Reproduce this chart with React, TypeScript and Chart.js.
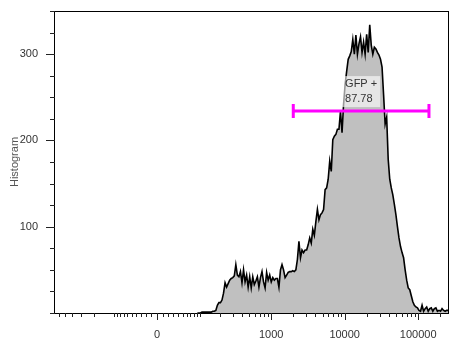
import React, { useEffect, useRef } from "react";
import { Chart, registerables } from "chart.js";

Chart.register(...registerables);

// ---- axis definition (arcsinh / biexponential display) ----
const xMinValue = -687;
const xMaxValue = 262144;
const xWidthParam = 56.3;
const binTotal = 256;

const xMajorTicks = [0, 1000, 10000, 100000];
const xMajorLabels = ["0", "1000", "10000", "100000"];
const xMinorTicks = [
  -600, -500, -400, -300, -200, -100, -90, -80, -70, -60, -50, -40, -30, -20, -10,
  10, 20, 30, 40, 50, 60, 70, 80, 90, 100, 200, 300, 400, 500, 600, 700, 800, 900,
  2000, 3000, 4000, 5000, 6000, 7000, 8000, 9000,
  20000, 30000, 40000, 50000, 60000, 70000, 80000, 90000, 200000,
];
const yMajorTicks = [100, 200, 300];
const yMinorTicks = [25, 50, 75, 125, 150, 175, 225, 250, 275, 325, 350];
const yMax = 350;
const yTitle = "Histogram";

// ---- histogram counts (256 display bins; first listed bin index below) ----
const firstBin = 92;
const binCounts = [
  0, 0, 0, 1, 1, 1, 1, 1, 1, 1, // 92-101
  2, 2, 3, 9, 12, 12, 15, 23, 35, 30, // 102-111
  34, 38, 40, 41, 43, 56, 44, 42, 48, 35, // 112-121
  50, 36, 44, 30, 42, 29, 42, 33, 37, 42, // 122-131
  30, 41, 48, 36, 29, 47, 38, 44, 36, 41, // 132-141
  38, 40, 40, 30, 50, 56, 50, 41, 44, 47, // 142-151
  48, 48, 49, 48, 50, 62, 83, 64, 73, 70, // 152-161
  73, 73, 79, 87, 81, 97, 90, 106, 120, 108, // 162-171
  114, 116, 120, 143, 145, 155, 176, 164, 201, 205, // 172-181
  207, 213, 213, 234, 209, 242, 265, 280, 294, 298, // 182-191
  303, 317, 300, 322, 300, 312, 320, 302, 314, 300, // 192-201
  323, 302, 334, 310, 300, 308, 306, 302, 299, 294, // 202-211
  285, 253, 219, 227, 178, 155, 145, 137, 126, 114, // 212-221
  100, 87, 77, 70, 64, 50, 38, 29, 27, 20, // 222-231
  13, 9, 7, 6, 3, 2, 9, 2, 5, 7, // 232-241
  2, 5, 6, 2, 5, 6, 2, 3, 2, 5, // 242-251
  3, 2, 3, 3, // 252-255
];

// ---- gate ----
const gateName = "GFP +";
const gatePercent = "87.78";
const gateLow = 2000;
const gateHigh = 140000;
const gateLevel = 234;

const FONT = '"Liberation Sans", Arial, sans-serif';

function displayOf(v: number) {
  return Math.asinh(v / xWidthParam) / Math.LN10;
}
const dMin = displayOf(xMinValue);
const dMax = displayOf(xMaxValue);
function channelOf(v: number) {
  return ((displayOf(v) - dMin) / (dMax - dMin)) * binTotal;
}

const decorPlugin = {
  id: "decor",
  afterDatasetsDraw(chart: any) {
    const { ctx, scales } = chart;
    const x = scales.x;
    const y = scales.y;
    const x1 = x.getPixelForValue(channelOf(gateLow));
    const x2 = x.getPixelForValue(channelOf(gateHigh));
    const gy = y.getPixelForValue(gateLevel);
    const cx = (x1 + x2) / 2;
    ctx.save();
    ctx.font = `11px ${FONT}`;
    const w =
      Math.max(ctx.measureText(gateName).width, ctx.measureText(gatePercent).width) + 6;
    ctx.fillStyle = "rgba(255,255,255,0.6)";
    ctx.fillRect(cx - w / 2, gy - 35, w, 31);
    ctx.fillStyle = "#333";
    ctx.textAlign = "left";
    ctx.textBaseline = "middle";
    ctx.fillText(gateName, cx - w / 2 + 3, gy - 27);
    ctx.fillText(gatePercent, cx - w / 2 + 3, gy - 12);
    ctx.strokeStyle = "#ff00ff";
    ctx.lineWidth = 3;
    ctx.beginPath();
    ctx.moveTo(x1, gy);
    ctx.lineTo(x2, gy);
    ctx.moveTo(x1, gy - 7);
    ctx.lineTo(x1, gy + 7);
    ctx.moveTo(x2, gy - 7);
    ctx.lineTo(x2, gy + 7);
    ctx.stroke();
    ctx.restore();
  },
  afterDraw(chart: any) {
    const { ctx, chartArea, scales } = chart;
    const { left, right, top, bottom } = chartArea;
    ctx.save();
    ctx.strokeStyle = "#000";
    ctx.lineWidth = 1;
    ctx.strokeRect(left - 0.5, top + 0.5, right - left, bottom - top);
    ctx.strokeStyle = "#222";
    ctx.beginPath();
    // y ticks
    for (const v of yMinorTicks) {
      const py = Math.round(scales.y.getPixelForValue(v)) + 0.5;
      ctx.moveTo(left - 5, py);
      ctx.lineTo(left, py);
    }
    for (const v of yMajorTicks) {
      const py = Math.round(scales.y.getPixelForValue(v)) + 0.5;
      ctx.moveTo(left - 9, py);
      ctx.lineTo(left, py);
    }
    {
      const py = Math.round(scales.y.getPixelForValue(0)) + 0.5;
      ctx.moveTo(left - 5, py);
      ctx.lineTo(left, py);
    }
    // x ticks
    for (const v of xMinorTicks) {
      const px = Math.round(scales.x.getPixelForValue(channelOf(v))) + 0.5;
      if (px < left || px > right) continue;
      ctx.moveTo(px, bottom);
      ctx.lineTo(px, bottom + 4);
    }
    for (const v of xMajorTicks) {
      const px = Math.round(scales.x.getPixelForValue(channelOf(v))) + 0.5;
      ctx.moveTo(px, bottom);
      ctx.lineTo(px, bottom + 7);
    }
    ctx.stroke();
    ctx.restore();
  },
};

export default function App() {
  const canvasRef = useRef<HTMLCanvasElement | null>(null);

  useEffect(() => {
    const canvas = canvasRef.current;
    if (!canvas) return;
    const points = binCounts.map((c, i) => ({ x: firstBin + i + 0.5, y: c }));
    const chart = new Chart(canvas, {
      type: "line",
      data: {
        datasets: [
          {
            data: points,
            borderColor: "#000",
            borderWidth: 1.6,
            backgroundColor: "#c0c0c0",
            fill: "origin",
            pointRadius: 0,
            tension: 0,
          },
        ],
      },
      options: {
        animation: false,
        responsive: false,
        events: [],
        layout: { padding: { left: 0, top: 11, right: 3, bottom: 0 } },
        plugins: { legend: { display: false }, tooltip: { enabled: false } },
        scales: {
          x: {
            type: "linear",
            min: 0,
            max: binTotal,
            grid: { display: false, drawTicks: false },
            border: { display: false },
            afterBuildTicks: (scale: any) => {
              scale.ticks = xMajorTicks.map((v) => ({ value: channelOf(v) }));
            },
            afterFit: (scale: any) => {
              scale.height = 33;
              scale.paddingLeft = 0;
              scale.paddingRight = 0;
            },
            ticks: {
              padding: 15,
              maxRotation: 0,
              autoSkip: false,
              color: "#333",
              font: { size: 11, family: FONT },
              callback: (_v: any, i: number) => xMajorLabels[i],
            },
          },
          y: {
            type: "linear",
            min: 0,
            max: yMax,
            grid: { display: false, drawTicks: false },
            border: { display: false },
            afterBuildTicks: (scale: any) => {
              scale.ticks = yMajorTicks.map((v) => ({ value: v }));
            },
            afterFit: (scale: any) => {
              scale.width = 55;
              scale.paddingTop = 0;
              scale.paddingBottom = 0;
            },
            ticks: {
              padding: 17,
              color: "#333",
              font: { size: 11, family: FONT },
              callback: (v: any) => String(v),
            },
            title: {
              display: true,
              text: yTitle,
              color: "#555",
              font: { size: 11, family: FONT },
              padding: { top: 8, bottom: 0 },
            },
          },
        },
      },
      plugins: [decorPlugin],
    });
    return () => chart.destroy();
  }, []);

  return (
    <div style={{ position: "fixed", left: 0, top: 0, width: 452, height: 346, background: "#fff" }}>
      <canvas ref={canvasRef} width={452} height={346} />
    </div>
  );
}
